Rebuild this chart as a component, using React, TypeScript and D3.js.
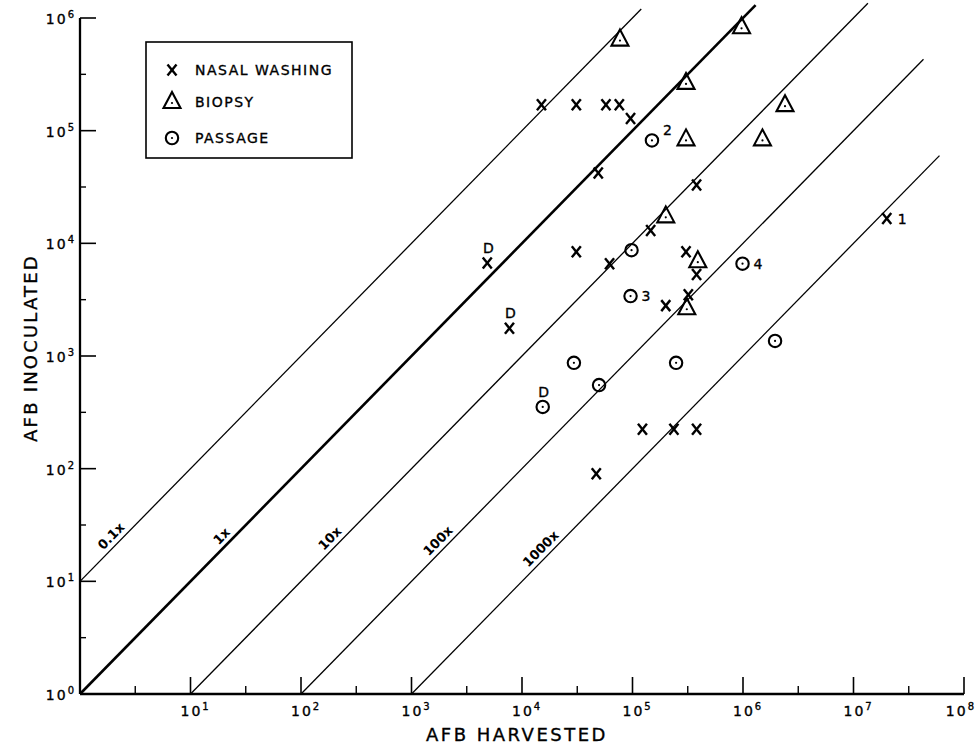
import React from 'react';
import * as d3 from 'd3';

// [AFB harvested, AFB inoculated, note]
const nasalWashing: [number, number, string][] = [
  [1.5e4, 1.7e5, ''],
  [3.1e4, 1.7e5, ''],
  [5.75e4, 1.7e5, ''],
  [7.6e4, 1.7e5, ''],
  [9.6e4, 1.28e5, ''],
  [4.9e4, 4.2e4, ''],
  [3.8e5, 3.3e4, ''],
  [1.46e5, 1.3e4, ''],
  [3.1e4, 8.4e3, ''],
  [6.2e4, 6.6e3, ''],
  [4.85e3, 6.7e3, 'D'],
  [3.05e5, 8.4e3, ''],
  [3.8e5, 5.3e3, ''],
  [2.0e5, 2.8e3, ''],
  [3.2e5, 3.5e3, ''],
  [7.7e3, 1.76e3, 'D'],
  [2.0e7, 1.66e4, '1'],
  [1.23e5, 224, ''],
  [2.37e5, 224, ''],
  [3.8e5, 224, ''],
  [4.7e4, 90, ''],
];

const biopsy: [number, number, string][] = [
  [7.7e4, 6.3e5, ''],
  [9.7e5, 8.1e5, ''],
  [3.05e5, 2.6e5, ''],
  [3.05e5, 8.2e4, ''],
  [1.5e6, 8.2e4, ''],
  [2.4e6, 1.65e5, ''],
  [2.0e5, 1.7e4, ''],
  [3.9e5, 6.8e3, ''],
  [3.1e5, 2.6e3, ''],
];

const passage: [number, number, string][] = [
  [1.5e5, 8.2e4, '2'],
  [9.8e4, 8.7e3, ''],
  [9.6e4, 3.4e3, '3'],
  [9.9e5, 6.6e3, '4'],
  [1.95e6, 1.36e3, ''],
  [2.95e4, 870, ''],
  [4.98e4, 552, ''],
  [1.54e4, 353, 'D'],
  [2.48e5, 870, ''],
];

// ratio lines: harvested / inoculated
const ratios = [0.1, 1, 10, 100, 1000];
const ratioLabels = ['0.1x', '1x', '10x', '100x', '1000x'];
const ratioEnds = [1.2e5, 1.3e6, 1.35e7, 4.3e7, 6e7];
const ratioLabelAt = [2.2, 22, 210, 2000, 17000];

const xDecades = [0, 1, 2, 3, 4, 5, 6, 7, 8];
const yDecades = [0, 1, 2, 3, 4, 5, 6];

const legendItems = ['NASAL WASHING', 'BIOPSY', 'PASSAGE'];

const font = 'DejaVu Sans, Verdana, sans-serif';
// lettering in the scan is a bit heavier than a regular face
const ink = { fill: '#000', stroke: '#000', strokeWidth: 0.35 };

const Cross = ({ x, y }: { x: number; y: number }) => (
  <g stroke="#000" strokeWidth={2.4}>
    <line x1={x - 4.5} y1={y - 5.5} x2={x + 4.5} y2={y + 5.5} />
    <line x1={x + 4.5} y1={y - 5.5} x2={x - 4.5} y2={y + 5.5} />
  </g>
);

const Tri = ({ x, y }: { x: number; y: number }) => (
  <g>
    <path
      d={`M${x},${y - 11}L${x + 8.5},${y + 5}L${x - 8.5},${y + 5}Z`}
      fill="none"
      stroke="#000"
      strokeWidth={2.1}
    />
    <circle cx={x} cy={y} r={1.1} fill="#000" />
  </g>
);

const Circ = ({ x, y }: { x: number; y: number }) => (
  <g>
    <circle cx={x} cy={y} r={6.2} fill="none" stroke="#000" strokeWidth={2.1} />
    <circle cx={x} cy={y} r={1.1} fill="#000" />
  </g>
);

const Pow = ({ n }: { n: number }) => (
  <>
    10<tspan fontSize={10} dy={-6}>{n}</tspan>
  </>
);

export default function App() {
  const x = d3.scaleLog().domain([1, 1e8]).range([80, 964]);
  const y = d3.scaleLog().domain([1, 1e6]).range([694, 18]);

  const slope = (y(10) - y(1)) / (x(10) - x(1));
  const angle = (Math.atan(slope) * 180) / Math.PI;

  const notes = (pts: [number, number, string][]) =>
    pts
      .filter((p) => p[2])
      .map((p, i) => {
        const px = x(p[0]);
        const py = y(p[1]);
        const isD = p[2] === 'D';
        return (
          <text
            key={i}
            x={isD ? px + 1 : px + 11}
            y={isD ? py - 10 : p[2] === '2' ? py - 5 : py + 5}
            textAnchor={isD ? 'middle' : 'start'}
            fontSize={14}
            fontFamily={font}
            {...ink}
          >
            {p[2]}
          </text>
        );
      });

  return (
    <svg
      width={977}
      height={745}
      style={{ position: 'absolute', left: 0, top: 0, background: '#fff' }}
    >
      {/* ratio lines */}
      {ratios.map((r, i) => {
        const h0 = Math.max(1, r);
        const line = d3.line<number>()
          .x((h) => x(h))
          .y((h) => y(h / r));
        const lx = x(ratioLabelAt[i]);
        const ly = y(ratioLabelAt[i] / r);
        return (
          <g key={r}>
            <path
              d={line([h0, ratioEnds[i]]) || ''}
              fill="none"
              stroke="#000"
              strokeWidth={r === 1 ? 2.6 : 1.3}
            />
            <text
              transform={`translate(${lx},${ly}) rotate(${angle})`}
              y={-5}
              textAnchor="middle"
              fontSize={13}
              fontWeight="bold"
              fontFamily={font}
            >
              {ratioLabels[i]}
            </text>
          </g>
        );
      })}

      {/* axes */}
      <line x1={80} x2={80} y1={y(1e6)} y2={y(1)} stroke="#000" strokeWidth={2.3} />
      <line x1={x(1)} x2={x(1e8)} y1={694} y2={694} stroke="#000" strokeWidth={2.3} />

      {yDecades.map((d) => (
        <g key={'y' + d}>
          <line x1={80} x2={96} y1={y(10 ** d)} y2={y(10 ** d)} stroke="#000" strokeWidth={1.6} />
          {d < 6 && (
            <line x1={80} x2={86} y1={y(10 ** (d + 0.5))} y2={y(10 ** (d + 0.5))} stroke="#000" strokeWidth={1.4} />
          )}
          <text
            x={76}
            y={y(10 ** d) + 6}
            textAnchor="end"
            fontSize={14}
            letterSpacing={2}
            fontFamily={font}
            {...ink}
          >
            <Pow n={d} />
          </text>
        </g>
      ))}

      {xDecades.map((d) => (
        <g key={'x' + d}>
          {d > 0 && (
            <line x1={x(10 ** d)} x2={x(10 ** d)} y1={694} y2={677} stroke="#000" strokeWidth={1.6} />
          )}
          {d < 8 && (
            <line x1={x(10 ** (d + 0.5))} x2={x(10 ** (d + 0.5))} y1={694} y2={686} stroke="#000" strokeWidth={1.4} />
          )}
          {d > 0 && (
            <text
              x={d === 8 ? 976 : x(10 ** d) - 10}
              y={716}
              textAnchor={d === 8 ? 'end' : 'start'}
              fontSize={14}
              letterSpacing={2}
              fontFamily={font}
              {...ink}
            >
              <Pow n={d} />
            </text>
          )}
        </g>
      ))}

      <text
        x={517}
        y={741}
        textAnchor="middle"
        fontSize={18}
        letterSpacing={2.5}
        fontFamily={font}
        {...ink}
      >
        AFB HARVESTED
      </text>
      <text
        transform="translate(37,348) rotate(-90)"
        textAnchor="middle"
        fontSize={18}
        letterSpacing={2.2}
        fontFamily={font}
        {...ink}
      >
        AFB INOCULATED
      </text>

      {/* legend */}
      <rect x={146} y={42} width={206} height={116} fill="#fff" stroke="#000" strokeWidth={1.6} />
      <Cross x={172} y={70} />
      <Tri x={172} y={103} />
      <Circ x={172} y={138} />
      {legendItems.map((t, i) => (
        <text
          key={t}
          x={195}
          y={[75, 107, 143][i]}
          fontSize={14}
          letterSpacing={1.5}
          fontFamily={font}
          {...ink}
        >
          {t}
        </text>
      ))}

      {/* points */}
      {nasalWashing.map((p, i) => <Cross key={'n' + i} x={x(p[0])} y={y(p[1])} />)}
      {biopsy.map((p, i) => <Tri key={'b' + i} x={x(p[0])} y={y(p[1])} />)}
      {passage.map((p, i) => <Circ key={'p' + i} x={x(p[0])} y={y(p[1])} />)}
      {notes(nasalWashing)}
      {notes(passage)}
    </svg>
  );
}
